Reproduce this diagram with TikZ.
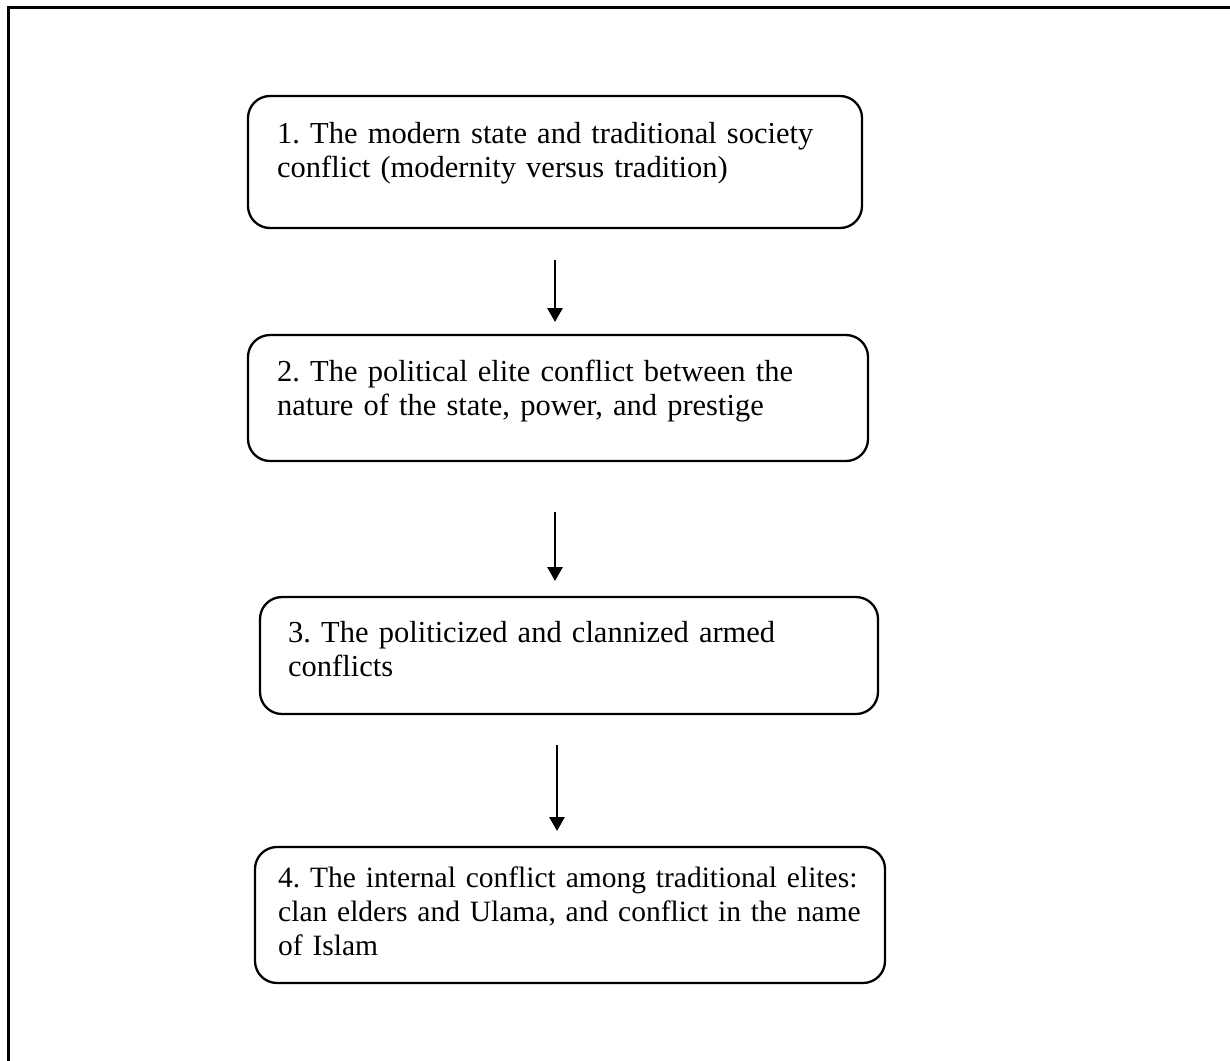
\documentclass[tikz,border=0pt]{standalone}
\usepackage{fontspec}
\setmainfont{Liberation Serif}
\usetikzlibrary{arrows.meta}

\tikzset{
  stagebox/.style={draw=black, line width=2.3pt, rounded corners=22pt,
    anchor=north west, inner sep=0pt, outer sep=0pt},
  stagetext/.style={anchor=base west, inner sep=0pt, text width=640pt,
    align=left, font=\fontsize{30.5pt}{34pt}\selectfont\frenchspacing},
  smalltext/.style={stagetext, font=\fontsize{29.5pt}{34pt}\selectfont\frenchspacing},
  flowarrow/.style={draw=black, line width=2.8pt,
    -{Triangle[width=15pt,length=14pt]}},
  frameline/.style={draw=black, line width=2.8pt}
}

\begin{document}
\begin{tikzpicture}[x=1pt, y=-1pt]
  \useasboundingbox (0,0) rectangle (1230,1060);

  % open frame: top and left edges only
  \coordinate (frameTL) at (8.5,7.5);
  \coordinate (frameTR) at (1232,7.5);
  \coordinate (frameBL) at (8.5,1062);
  \draw[frameline] (frameTR) -- (frameTL) -- (frameBL);

  % stage boxes
  \node[stagebox, minimum width=614pt, minimum height=132pt] (box1) at (248,96) {};
  \node[stagebox, minimum width=620pt, minimum height=126pt] (box2) at (248,335) {};
  \node[stagebox, minimum width=618pt, minimum height=117pt] (box3) at (260,597) {};
  \node[stagebox, minimum width=630pt, minimum height=136pt] (box4) at (255,847) {};

  % stage texts
  \node[stagetext] (txt1) at (277,143)
    {1. The modern state and traditional society\\conflict (modernity versus tradition)};
  \node[stagetext] (txt2) at (277,381)
    {2. The political elite conflict between the\\nature of the state, power, and prestige};
  \node[stagetext] (txt3) at (288,642)
    {3. The politicized and clannized armed\\conflicts};
  \node[smalltext] (txt4) at (278,887)
    {4. The internal conflict among traditional elites:\\clan elders and Ulama, and conflict in the name\\of Islam};

  % arrows between the stages
  \coordinate (a1s) at (555,260);
  \coordinate (a1e) at (555,322);
  \coordinate (a2s) at (555,512);
  \coordinate (a2e) at (555,581);
  \coordinate (a3s) at (557,745);
  \coordinate (a3e) at (557,831);
  \draw[flowarrow] (a1s) -- (a1e);
  \draw[flowarrow] (a2s) -- (a2e);
  \draw[flowarrow] (a3s) -- (a3e);
\end{tikzpicture}
\end{document}
